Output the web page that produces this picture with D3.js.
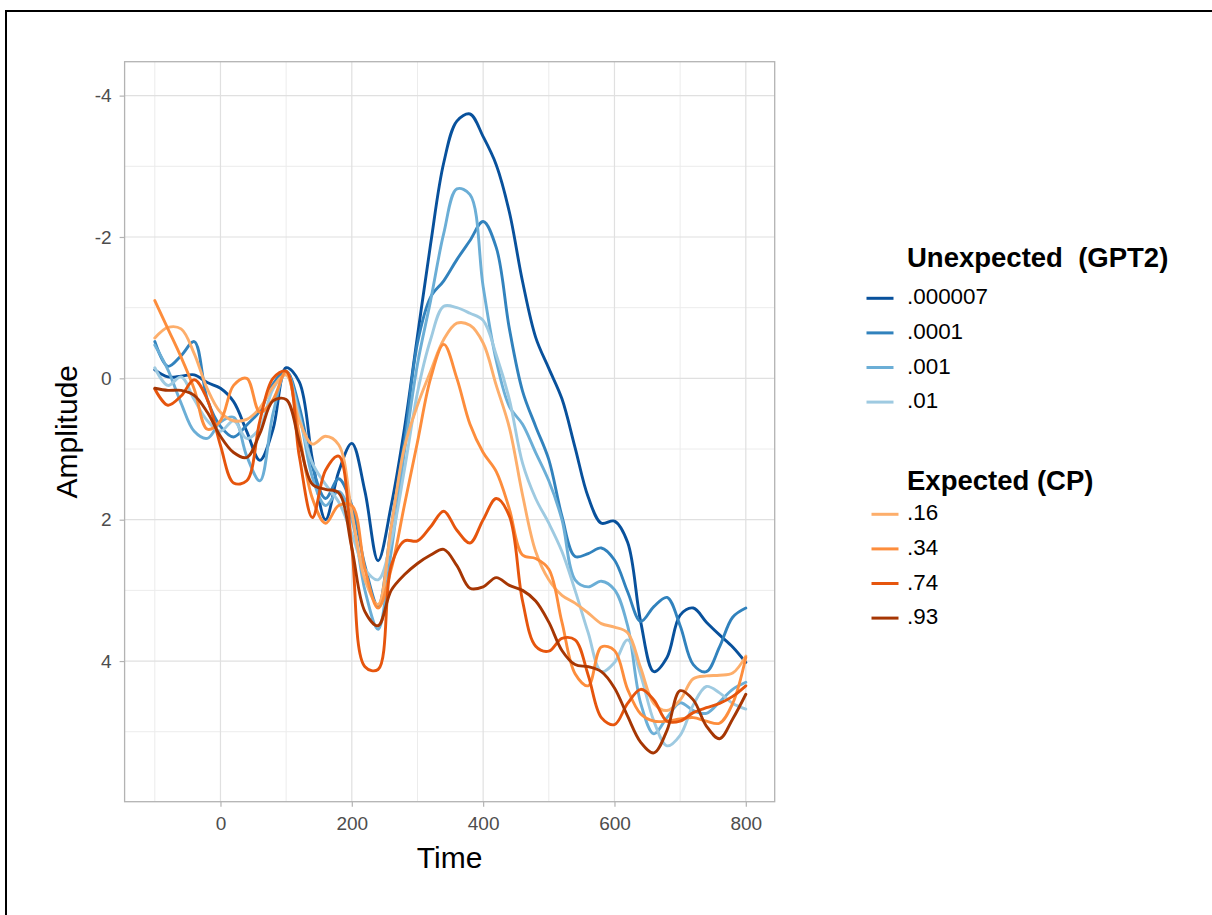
<!DOCTYPE html>
<html>
<head>
<meta charset="utf-8">
<script src="https://cdn.jsdelivr.net/npm/d3@7"></script>
<style>
  body { margin: 0; background: #fff; }
  svg { display: block; font-family: 'Liberation Sans', Arial, sans-serif; }
</style>
</head>
<body>
<script>
// time points (ms)
const times = [-100, -80, -60, -40, -20, 0, 20, 40, 60, 80, 100, 120, 140, 160, 180, 200,
  220, 240, 260, 280, 300, 320, 340, 360, 380, 400, 420, 440, 460, 480, 500, 520, 540,
  560, 580, 600, 620, 640, 660, 680, 700, 720, 740, 760, 780, 800];

// Unexpected (GPT2)
const gpt2Levels = ['.000007', '.0001', '.001', '.01'];
const amp000007 = [-0.12, -0.02, -0.03, -0.05, 0.06, 0.14, 0.33, 0.75, 1.16, 0.72, -0.15, 0.05,
  1.15, 2.0, 1.32, 0.92, 1.6, 2.58, 1.8, 0.72, -0.6, -1.9, -3.05, -3.64, -3.74, -3.42, -3.02,
  -2.35, -1.37, -0.58, -0.14, 0.29, 0.98, 1.68, 2.05, 2.02, 2.32, 3.45, 4.15, 3.95, 3.35, 3.25,
  3.45, 3.63, 3.8, 4.02];
const amp0001 = [-0.52, -0.17, -0.32, -0.52, 0.3, 0.68, 0.83, 0.66, 0.46, 0.08, -0.1, 0.4,
  1.25, 1.7, 1.42, 1.8, 2.65, 3.22, 2.1, 0.9, -0.5, -1.15, -1.38, -1.68, -1.95, -2.22, -1.85,
  -0.7, 0.18, 0.68, 1.15, 1.95, 2.52, 2.48, 2.4, 2.57, 3.02, 3.44, 3.23, 3.1, 3.5, 4.05, 4.15,
  3.8, 3.38, 3.25];
const amp001 = [-0.47, -0.12, 0.35, 0.75, 0.85, 0.62, 0.55, 1.1, 1.45, 0.5, -0.1, 0.5, 1.4,
  1.8, 1.6, 2.0, 3.0, 3.55, 2.45, 1.05, -0.2, -1.1, -2.05, -2.68, -2.6, -1.3, -0.25, 0.4, 0.65,
  1.05, 1.45, 2.0, 2.85, 2.95, 2.87, 2.99, 3.5, 4.6, 5.03, 4.8, 4.59, 4.7, 4.74, 4.58, 4.4, 4.3];
const amp01 = [-0.15, 0.1, -0.02, 0.3, 0.6, 0.75, 0.6, 0.85, 0.7, 0.15, -0.05, 0.55, 1.2, 1.5,
  1.75, 2.2, 2.7, 2.85, 2.3, 1.3, 0.2, -0.55, -1.02, -1.0, -0.92, -0.82, -0.33, 0.3, 1.2, 1.7,
  2.05, 2.45, 3.0, 3.6, 4.15, 4.02, 3.7, 4.2, 4.85, 5.2, 5.05, 4.62, 4.36, 4.45, 4.6, 4.68];

// Expected (CP)
const cpLevels = ['.16', '.34', '.74', '.93'];
const amp16 = [-0.57, -0.72, -0.7, -0.35, 0.15, 0.48, 0.6, 0.58, 0.42, 0.12, -0.05, 0.6, 0.93,
  0.82, 0.94, 1.9, 2.85, 3.2, 2.1, 0.98, 0.38, -0.1, -0.55, -0.78, -0.75, -0.5, 0.1, 0.7, 1.65,
  2.45, 2.85, 3.07, 3.18, 3.32, 3.47, 3.52, 3.6, 4.1, 4.6, 4.7, 4.55, 4.25, 4.21, 4.2, 4.17, 3.93];
const amp34 = [-1.1, -0.7, -0.3, 0.15, 0.72, 0.6, 0.1, 0.0, 0.48, 0.3, -0.1, 0.8, 1.7, 2.05,
  1.8, 1.8, 2.7, 3.25, 2.7, 1.8, 0.9, 0.0, -0.48, 0.0, 0.65, 1.05, 1.32, 1.85, 2.5, 2.55, 2.7,
  3.45, 4.18, 4.35, 3.8, 3.85, 4.4, 4.75, 4.85, 4.85, 4.82, 4.8, 4.85, 4.88, 4.6, 3.95];
const amp74 = [0.15, 0.38, 0.25, 0.02, 0.3, 0.95, 1.48, 1.45, 0.6, 0.0, -0.1, 1.1, 1.97, 1.3,
  1.1, 2.4, 4.08, 4.12, 2.65, 2.3, 2.3, 2.1, 1.88, 2.15, 2.33, 2.0, 1.7, 1.95, 3.15, 3.79, 3.86,
  3.68, 3.7, 4.2, 4.8, 4.9, 4.6, 4.4, 4.55, 4.85, 4.85, 4.73, 4.66, 4.6, 4.5, 4.35];
const amp93 = [0.14, 0.17, 0.17, 0.24, 0.48, 0.82, 1.05, 1.12, 0.78, 0.32, 0.3, 0.9, 1.5, 1.57,
  1.62, 2.4, 3.3, 3.5, 3.0, 2.78, 2.62, 2.5, 2.42, 2.65, 2.97, 2.95, 2.82, 2.93, 3.0, 3.15,
  3.45, 3.85, 4.05, 4.08, 4.15, 4.38, 4.78, 5.15, 5.3, 4.98, 4.42, 4.55, 4.92, 5.1, 4.82, 4.47];

const gpt2Colors = ['#08519c', '#3182bd', '#6baed6', '#9ecae1'];
const cpColors = ['#fdae6b', '#fd8d3c', '#e6550d', '#a63603'];

const xTicks = [0, 200, 400, 600, 800];
const xMinor = [-100, 100, 300, 500, 700];
const yTicks = [-4, -2, 0, 2, 4];
const yMinor = [-3, -1, 1, 3, 5];

const gpt2Series = [amp000007, amp0001, amp001, amp01];
const cpSeries = [amp16, amp34, amp74, amp93];

const w = 1212;
const h = 915;
const panel = { left: 124.6, right: 774.7, top: 61.7, bottom: 801.7 };

const svg = d3
  .select('body')
  .append('svg')
  .attr('width', w)
  .attr('height', h)
  .style('background-color', 'white');

// outer frame
svg
  .append('rect')
  .attr('x', 6)
  .attr('y', 11)
  .attr('width', w)
  .attr('height', h)
  .attr('fill', 'none')
  .attr('stroke', '#000')
  .attr('stroke-width', 2);

const xScale = d3.scaleLinear().domain([-146, 844]).range([panel.left, panel.right]);
const yScale = d3.scaleLinear().domain([-4.48, 5.99]).range([panel.top, panel.bottom]);

const pw = panel.right - panel.left;
const ph = panel.bottom - panel.top;

// grid lines
const grid = svg.append('g');
grid
  .selectAll('line.xminor')
  .data(xMinor)
  .enter()
  .append('line')
  .attr('x1', (d) => xScale(d))
  .attr('x2', (d) => xScale(d))
  .attr('y1', panel.top)
  .attr('y2', panel.bottom)
  .attr('stroke', '#ececec')
  .attr('stroke-width', 1);
grid
  .selectAll('line.yminor')
  .data(yMinor)
  .enter()
  .append('line')
  .attr('x1', panel.left)
  .attr('x2', panel.right)
  .attr('y1', (d) => yScale(d))
  .attr('y2', (d) => yScale(d))
  .attr('stroke', '#ececec')
  .attr('stroke-width', 1);
grid
  .selectAll('line.xmajor')
  .data(xTicks)
  .enter()
  .append('line')
  .attr('x1', (d) => xScale(d))
  .attr('x2', (d) => xScale(d))
  .attr('y1', panel.top)
  .attr('y2', panel.bottom)
  .attr('stroke', '#e0e0e0')
  .attr('stroke-width', 1.2);
grid
  .selectAll('line.ymajor')
  .data(yTicks)
  .enter()
  .append('line')
  .attr('x1', panel.left)
  .attr('x2', panel.right)
  .attr('y1', (d) => yScale(d))
  .attr('y2', (d) => yScale(d))
  .attr('stroke', '#e0e0e0')
  .attr('stroke-width', 1.2);

// lines
const line = d3
  .line()
  .x((d, i) => xScale(times[i]))
  .y((d) => yScale(d))
  .curve(d3.curveCatmullRom.alpha(0.5));

const lines = svg.append('g').attr('fill', 'none').attr('stroke-width', 2.9)
  .attr('stroke-linejoin', 'round').attr('stroke-linecap', 'round');

lines
  .selectAll('path.gpt2')
  .data(gpt2Series)
  .enter()
  .append('path')
  .attr('d', (d) => line(d))
  .attr('stroke', (d, i) => gpt2Colors[i]);

lines
  .selectAll('path.cp')
  .data(cpSeries)
  .enter()
  .append('path')
  .attr('d', (d) => line(d))
  .attr('stroke', (d, i) => cpColors[i]);

// panel border
svg
  .append('rect')
  .attr('x', panel.left)
  .attr('y', panel.top)
  .attr('width', pw)
  .attr('height', ph)
  .attr('fill', 'none')
  .attr('stroke', '#b3b3b3')
  .attr('stroke-width', 1.3);

// axes
const xAxis = d3.axisBottom(xScale).tickValues(xTicks).tickSize(5).tickPadding(10)
  .tickFormat((d) => String(d));
const yAxis = d3.axisLeft(yScale).tickValues(yTicks).tickSize(5).tickPadding(8)
  .tickFormat((d) => String(d));

const gx = svg
  .append('g')
  .attr('transform', 'translate(0,' + panel.bottom + ')')
  .call(xAxis);
const gy = svg
  .append('g')
  .attr('transform', 'translate(' + panel.left + ',0)')
  .call(yAxis);

[gx, gy].forEach((g) => {
  g.select('.domain').remove();
  g.selectAll('line').attr('stroke', '#b3b3b3').attr('stroke-width', 1.2);
  g.selectAll('text')
    .attr('fill', '#4d4d4d')
    .style('font-size', '19px')
    .style('font-family', "'Liberation Sans', Arial, sans-serif");
});

// axis titles
svg
  .append('text')
  .attr('x', (panel.left + panel.right) / 2)
  .attr('y', 868)
  .attr('text-anchor', 'middle')
  .style('font-size', '30px')
  .text('Time');

svg
  .append('text')
  .attr('transform', 'translate(77,' + (panel.top + panel.bottom) / 2 + ') rotate(-90)')
  .attr('text-anchor', 'middle')
  .style('font-size', '30px')
  .text('Amplitude');

// legends
function legend(title, labels, colors, titleY, firstY, keyX) {
  const g = svg.append('g');
  g.append('text')
    .attr('x', 907)
    .attr('y', titleY)
    .style('font-size', '27.5px')
    .style('font-weight', 'bold')
    .attr('xml:space', 'preserve')
    .text(title);
  labels.forEach((lab, i) => {
    const yy = firstY + i * 34.6;
    g.append('line')
      .attr('x1', keyX)
      .attr('x2', keyX + 27)
      .attr('y1', yy)
      .attr('y2', yy)
      .attr('stroke', colors[i])
      .attr('stroke-width', 3);
    g.append('text')
      .attr('x', 907)
      .attr('y', yy + 6)
      .style('font-size', '22.4px')
      .text(lab);
  });
}

legend('Unexpected  (GPT2)', gpt2Levels, gpt2Colors, 267, 298.3, 866.5);
legend('Expected (CP)', cpLevels, cpColors, 489.5, 514.3, 871.5);
</script>
</body>
</html>
